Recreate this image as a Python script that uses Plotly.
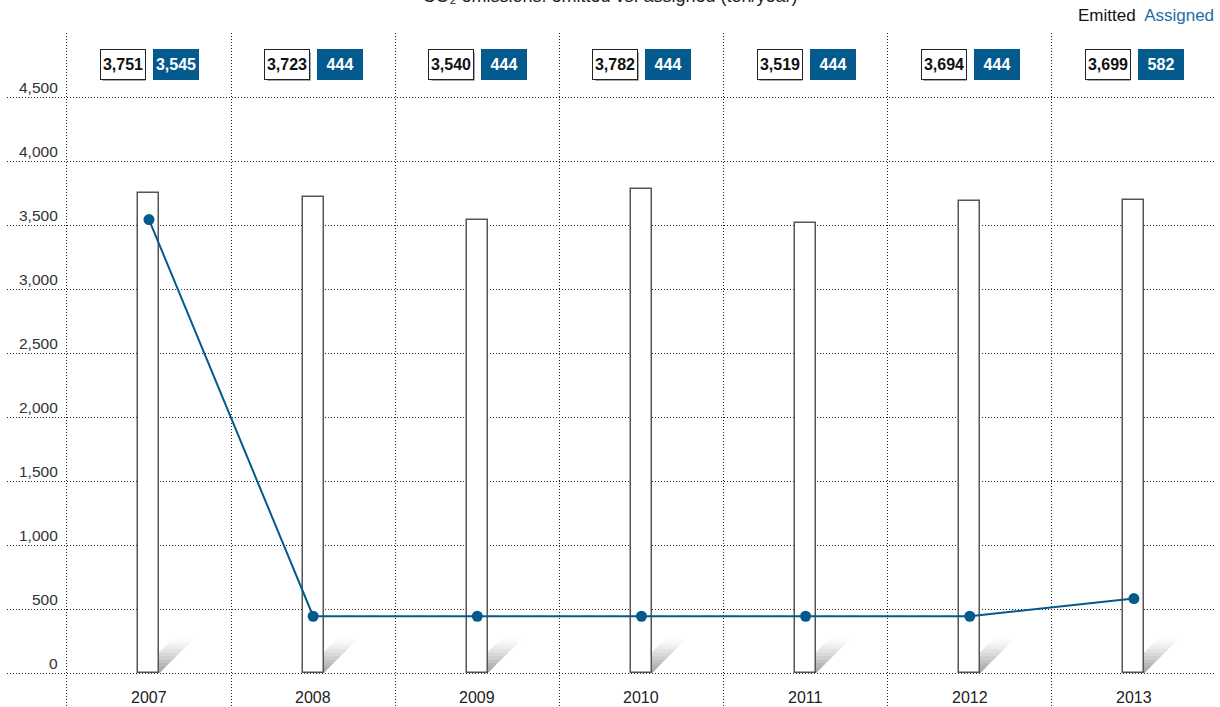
import plotly.graph_objects as go

# Yearly CO2 figures (ton/year)
years = ["2007", "2008", "2009", "2010", "2011", "2012", "2013"]
emitted = [3751, 3723, 3540, 3782, 3519, 3694, 3699]
assigned = [3545, 444, 444, 444, 444, 444, 582]
y_ticks = [0, 500, 1000, 1500, 2000, 2500, 3000, 3500, 4000, 4500]

BLUE = "#045a8d"
LEGEND_BLUE = "#1f6ea6"
GRID = "#222222"
GRID_DASH = "1px,2px"
LABEL_FONT = "Liberation Sans"
BOX_FONT = "Liberation Sans"

W, H = 1220, 707
M_L, M_R, M_T, M_B = 7, 4, 33, 0
X_RANGE = [-0.865, 6.5]
Y_RANGE = [-265.6, 5000]

px_per_x = (W - M_L - M_R) / (X_RANGE[1] - X_RANGE[0])
px_per_y = (H - M_T - M_B) / (Y_RANGE[1] - Y_RANGE[0])

x = list(range(len(years)))
bar_w = 21 / px_per_x

fig = go.Figure()

fig.add_trace(go.Bar(
    x=x, y=emitted, width=bar_w,
    marker=dict(color="white", line=dict(color="#555555", width=1.5)),
    name="Emitted", showlegend=False, hoverinfo="y",
))

fig.add_trace(go.Scatter(
    x=x, y=assigned, mode="lines+markers",
    line=dict(color=BLUE, width=2),
    marker=dict(color=BLUE, size=11),
    name="Assigned", showlegend=False,
))

# soft diagonal shadow at the foot of each bar
shapes = []
d_px = 34
n_slices = 10
for xi in x:
    xl = xi - bar_w / 2
    xr = xi + bar_w / 2
    for i in range(n_slices):
        a = i / n_slices
        b = (i + 1) / n_slices
        ax, ay = a * d_px / px_per_x, a * d_px / px_per_y
        bx, by = b * d_px / px_per_x, b * d_px / px_per_y
        path = (f"M {xl + ax} {ay} L {xr + ax} {ay} "
                f"L {xr + bx} {by} L {xl + bx} {by} Z")
        shapes.append(dict(
            type="path", path=path, xref="x", yref="y",
            fillcolor="#555555", opacity=0.55 * (1 - a) ** 1.3,
            line=dict(width=0), layer="between",
        ))

annotations = []

# value boxes across the top
box_y = 4754
off_l = -26 / px_per_x
off_r = 27 / px_per_x
for xi, e, a in zip(x, emitted, assigned):
    annotations.append(dict(
        x=xi + off_l, y=box_y, xref="x", yref="y", text="",
        showarrow=False, width=42, height=27, bgcolor="#555555",
        borderpad=0, xshift=1.5, yshift=-1.5,
    ))
    annotations.append(dict(
        x=xi + off_l, y=box_y, xref="x", yref="y",
        text=f"<b>{e:,}</b>", showarrow=False,
        font=dict(family=BOX_FONT, size=16, color="#111111"),
        width=40, height=25, bgcolor="white",
        bordercolor="#222222", borderwidth=1, borderpad=2,
    ))
    annotations.append(dict(
        x=xi + off_r, y=box_y, xref="x", yref="y",
        text=f"<b>{a:,}</b>", showarrow=False,
        font=dict(family=BOX_FONT, size=16, color="white"),
        width=42, height=27, bgcolor=BLUE,
        bordercolor=BLUE, borderwidth=1, borderpad=1,
    ))

# y values sitting just above their grid lines
for v in y_ticks:
    annotations.append(dict(
        x=-0.54, y=v, xref="x", yref="y", text=f"{v:,}",
        showarrow=False, xanchor="right", yanchor="bottom",
        font=dict(family=LABEL_FONT, size=15.5, color="#333333"),
        yshift=-1,
    ))

# year labels below the baseline
for xi, yr in zip(x, years):
    annotations.append(dict(
        x=xi, y=-190, xref="x", yref="y", text=yr,
        showarrow=False, xanchor="center", yanchor="middle",
        font=dict(family=LABEL_FONT, size=16, color="#222222"),
    ))

# legend text
annotations.append(dict(
    x=1, y=1 + 17 / (H - M_T - M_B), xref="paper", yref="paper",
    xanchor="right", yanchor="middle", showarrow=False,
    text=f"Emitted  <span style='color:{LEGEND_BLUE}'>Assigned</span>",
    font=dict(family=LABEL_FONT, size=17, color="#111111"),
))

fig.update_layout(
    width=W, height=H,
    margin=dict(l=M_L, r=M_R, t=M_T, b=M_B, pad=0),
    paper_bgcolor="white", plot_bgcolor="white",
    title=dict(
        text="CO₂ emissions: emitted vs. assigned (ton/year)",
        x=0.5, xanchor="center", xref="container",
        y=1 - 2 / H, yanchor="bottom", yref="container",
        font=dict(family=LABEL_FONT, size=18, color="#222222"),
    ),
    shapes=shapes,
    annotations=annotations,
    showlegend=False,
    bargap=0,
)

fig.update_xaxes(
    range=X_RANGE, showticklabels=False, ticks="",
    tickvals=[i - 0.5 for i in range(len(years) + 1)],
    showgrid=True, gridcolor=GRID, griddash=GRID_DASH, gridwidth=1,
    zeroline=False, showline=False,
)
fig.update_yaxes(
    range=[Y_RANGE[0], Y_RANGE[1] + 4], showticklabels=False, ticks="",
    tickvals=y_ticks + [5000],
    showgrid=True, gridcolor=GRID, griddash=GRID_DASH, gridwidth=1,
    zeroline=False, showline=False,
)

fig.write_html("out.html")
